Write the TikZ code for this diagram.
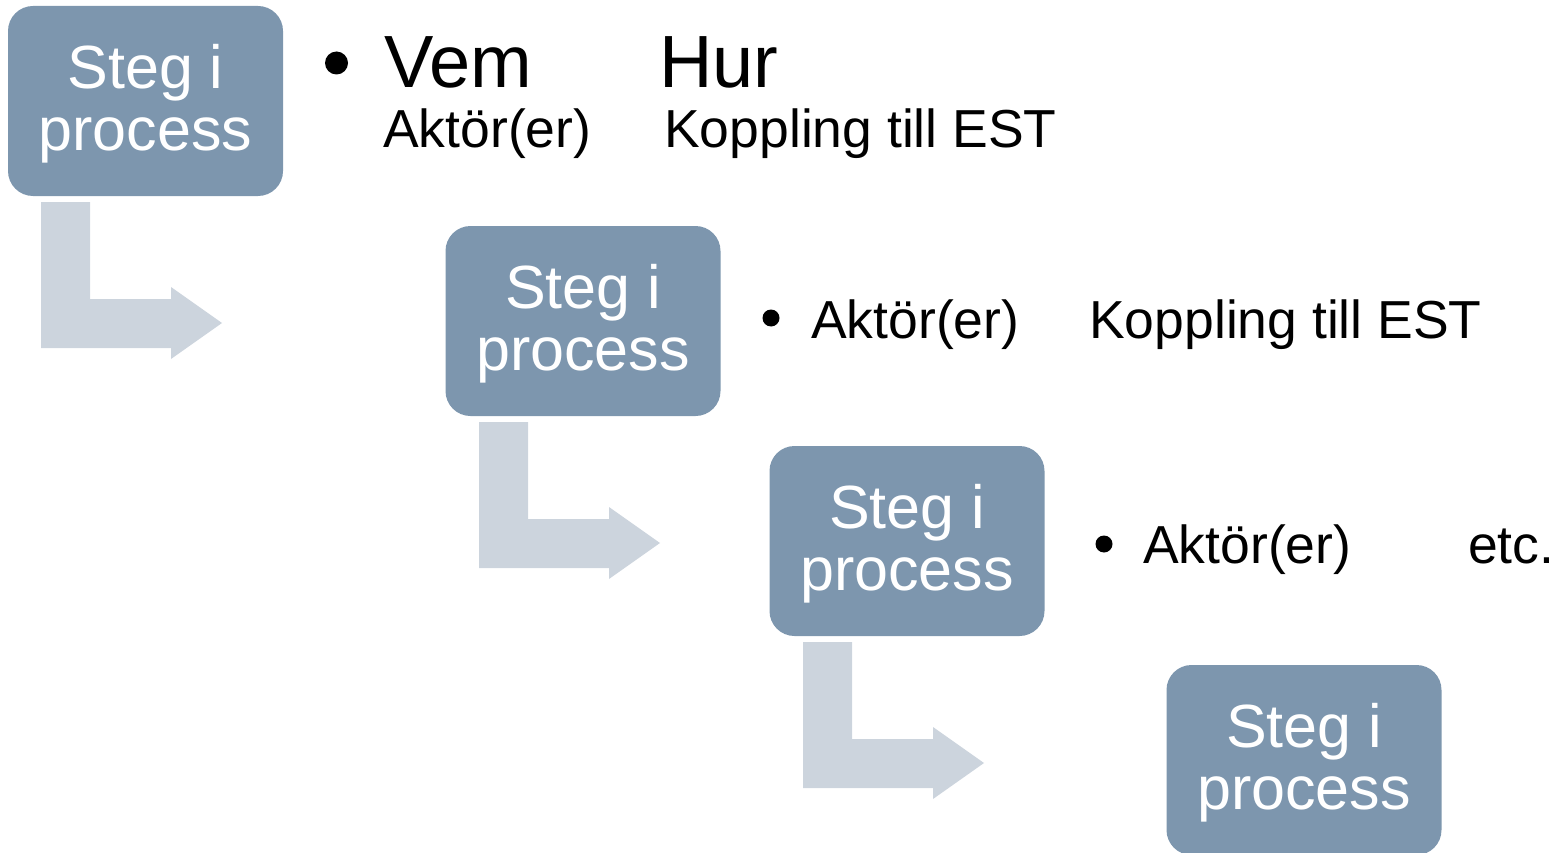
\documentclass[tikz,border=0pt]{standalone}
\usepackage{fontspec}
\setmainfont{Liberation Sans}
\definecolor{boxblue}{RGB}{125,150,174}
\definecolor{arrowgrey}{RGB}{204,212,221}
\tikzset{
  stepbox/.style={rounded corners=25pt, fill=boxblue, minimum width=275pt, minimum height=190pt,
    text=white, font=\fontsize{61}{62}\selectfont, align=center, inner sep=0pt},
  bigtxt/.style={anchor=base west, inner sep=0pt, font=\fontsize{74}{74}\selectfont},
  smalltxt/.style={anchor=base west, inner sep=0pt, font=\fontsize{53.5}{53.5}\selectfont},
  bul/.style={circle, fill=black, inner sep=0pt},
  bentarrow/.pic={
    \fill[arrowgrey] (0,0) -- (49,0) -- (49,97) -- (130,97) -- (130,85) -- (181,121)
      -- (130,157) -- (130,146) -- (0,146) -- cycle;
  }
}
\begin{document}
\begin{tikzpicture}[x=1pt, y=-1pt]
\useasboundingbox (0,0) rectangle (1562,853);
\clip (0,0) rectangle (1562,853);
% boxes
\node[stepbox] (s1) at (145.5,101) {\rule{0pt}{50pt}Steg i\\process};
\node[stepbox] (s2) at (583,321) {\rule{0pt}{50pt}Steg i\\process};
\node[stepbox] (s3) at (907,541) {\rule{0pt}{50pt}Steg i\\process};
\node[stepbox] (s4) at (1304,760) {\rule{0pt}{50pt}Steg i\\process};
% bent arrows
\coordinate (a1) at (41,202);
\coordinate (a2) at (479,422);
\coordinate (a3) at (803,642);
\pic at (a1) {bentarrow};
\pic at (a2) {bentarrow};
\pic at (a3) {bentarrow};
% texts row 1
\node[bul, minimum size=23pt] (b1) at (336.5,63) {};
\node[bigtxt] (vem) at (384,88) {Vem};
\node[bigtxt] (hur) at (659,88) {Hur};
\node[smalltxt] (akt1) at (383,148) {Aktör(er)};
\node[smalltxt] (kop1) at (664,148) {Koppling till EST};
% row 2
\node[bul, minimum size=17pt] (b2) at (771,318) {};
\node[smalltxt] (akt2) at (811,338) {Aktör(er)};
\node[smalltxt] (kop2) at (1089,338) {Koppling till EST};
% row 3
\node[bul, minimum size=17pt] (b3) at (1104,544) {};
\node[smalltxt] (akt3) at (1143,563) {Aktör(er)};
\node[smalltxt] (etc) at (1468,563) {etc.};
\end{tikzpicture}
\end{document}
